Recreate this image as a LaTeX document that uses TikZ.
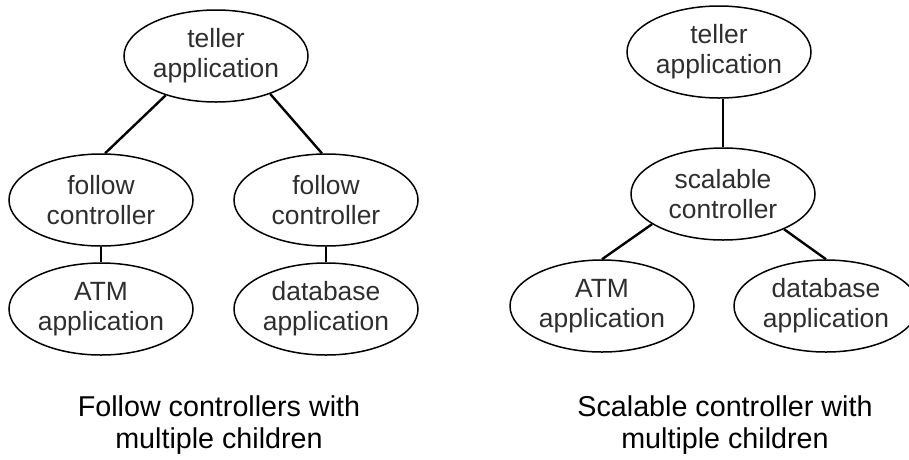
\documentclass[tikz,border=0pt]{standalone}
\usepackage{fontspec}
\setmainfont{Liberation Sans}
\usetikzlibrary{shapes.geometric}
\definecolor{txt}{gray}{0.18}
\tikzset{
  proc/.style={ellipse, draw=black, line width=1.5pt, minimum width=184pt, minimum height=92pt,
    inner sep=0pt, align=center, text=txt, font=\fontsize{26.4}{30}\selectfont},
  link/.style={draw=black, line width=2.4pt},
  caption/.style={align=center, text=black, font=\fontsize{28.7}{32}\selectfont}
}
\begin{document}
\begin{tikzpicture}[x=1pt,y=-1pt]
\useasboundingbox (0,0) rectangle (909,459);
% left diagram
\node[proc] (t1) at (216,56) {teller\\application};
\node[proc] (f1) at (101,200) {follow\\controller};
\node[proc] (f2) at (326,200) {follow\\controller};
\node[proc] (a1) at (101,309) {ATM\\application};
\node[proc] (d1) at (326,309) {database\\application};
\draw[link] (t1.218) -- (f1.85);
\draw[link] (t1.325) -- (f2.95);
\draw[link] (f1.south) -- (a1.north);
\draw[link] (f2.south) -- (d1.north);
\node[caption] (c1) at (219,425) {Follow controllers with\\multiple children};
% right diagram
\node[proc] (t2) at (719,52) {teller\\application};
\node[proc] (sc) at (723,194) {scalable\\controller};
\node[proc] (a2) at (602,306) {ATM\\application};
\node[proc] (d2) at (826,306) {database\\application};
\draw[link] (t2.south -| sc.north) -- (sc.north);
\draw[link] (sc.203) -- (a2.north);
\draw[link] (sc.330) -- (d2.north);
\node[caption] (c2) at (725,425) {Scalable controller with\\multiple children};
\end{tikzpicture}
\end{document}
